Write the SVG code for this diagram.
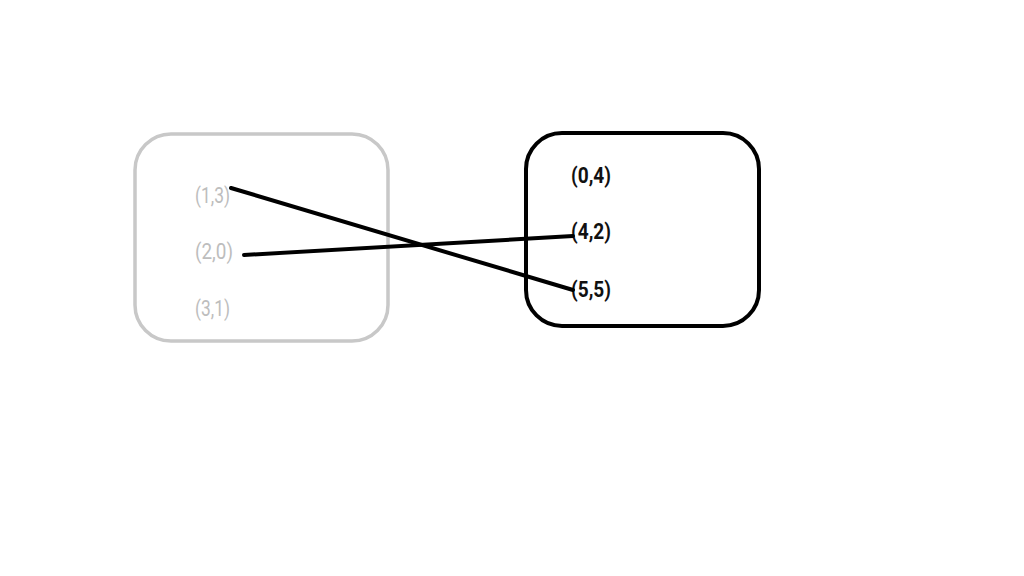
<svg xmlns="http://www.w3.org/2000/svg" width="1024" height="576" viewBox="0 0 1024 576">
<style>
.box{fill:none}
.l{font-family:Roboto,"Liberation Sans",sans-serif;font-size:22px;fill:#bdbdbd}
.r{font-family:Roboto,"Liberation Sans",sans-serif;font-size:22px;font-weight:bold;fill:#111}
.c{stroke:#000;stroke-width:4;fill:none;stroke-linecap:round}
</style>
<rect width="1024" height="576" fill="#fff"/>
<g id="left">
<rect class="box" x="135" y="134" width="253" height="207" rx="36" stroke="#c8c8c8" stroke-width="3.5"/>
<text class="l" x="195" y="203" textLength="35" lengthAdjust="spacingAndGlyphs">(1,3)</text>
<text class="l" x="195" y="259" textLength="38" lengthAdjust="spacingAndGlyphs">(2,0)</text>
<text class="l" x="195" y="316" textLength="35" lengthAdjust="spacingAndGlyphs">(3,1)</text>
</g>
<g id="right">
<rect class="box" x="526" y="133" width="233" height="193" rx="36" stroke="#000" stroke-width="4"/>
<text class="r" x="571" y="183" textLength="40" lengthAdjust="spacingAndGlyphs">(0,4)</text>
<text class="r" x="571" y="239" textLength="40" lengthAdjust="spacingAndGlyphs">(4,2)</text>
<text class="r" x="571" y="297" textLength="40" lengthAdjust="spacingAndGlyphs">(5,5)</text>
</g>
<g id="connectors">
<line class="c" x1="231" y1="188" x2="573" y2="290"/>
<line class="c" x1="244" y1="255" x2="573" y2="236"/>
</g>
</svg>
